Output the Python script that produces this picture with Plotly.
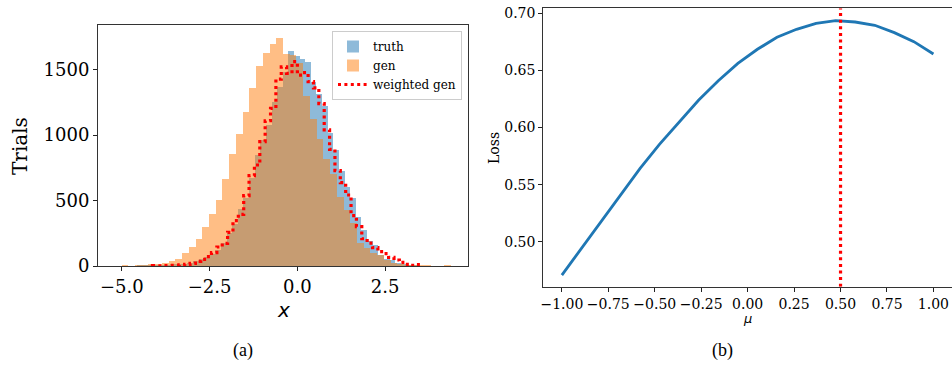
import numpy as np
import plotly.graph_objects as go

# ---------------- data: panel (a) histograms ----------------
truth_lo, truth_hi = -4.576, 3.424
truth_counts = [1, 1, 1, 2, 3, 5, 8, 10, 18, 25, 38, 53, 71, 95, 125, 173, 249, 318, 433, 517,
                669, 847, 962, 1076, 1249, 1369, 1478, 1641, 1600, 1580, 1555, 1407, 1310, 1225, 1013,
                885, 725, 606, 516, 377, 275, 193, 160, 84, 51, 46, 20, 8, 5, 2]

gen_lo, gen_hi = -5.2, 4.38
gen_counts = [0, 1, 0, 1, 3, 10, 15, 25, 41, 51, 97, 142, 209, 300, 397, 504, 664, 855, 1008, 1173,
              1361, 1527, 1626, 1695, 1743, 1616, 1610, 1547, 1300, 1120, 967, 817, 702, 530, 430,
              330, 175, 135, 97, 84, 46, 25, 15, 5, 3, 2, 1, 0, 0, 1]

wgen_lo, wgen_hi = -4.129, 3.516
wgen_counts = [3, 2, 4, 5, 6, 8, 13, 20, 36, 51, 71, 102, 145, 173, 257, 346, 394, 537, 690, 771,
               949, 1109, 1204, 1427, 1520, 1470, 1560, 1458, 1476, 1407, 1360, 1240, 1040, 890, 728,
               636, 542, 385, 300, 208, 175, 140, 110, 95, 66, 46, 28, 13, 5, 10]

# ---------------- data: panel (b) loss curve ----------------
mu_lo, mu_hi, mu_n = -1.0, 1.0, 20
loss = [0.4708, 0.4942, 0.5175, 0.5409, 0.5642, 0.5855, 0.6051, 0.6241, 0.6410, 0.6562,
        0.6685, 0.6790, 0.6860, 0.6912, 0.6936, 0.6924, 0.6895, 0.6831, 0.6752, 0.6644]
mu_best = 0.5

# ---------------- figure ----------------
W, H = 952, 365
SERIF = "DejaVu Serif"
BLUE = "#1f77b4"
ORANGE = "#ff7f0e"


def px_x(p):
    return p / W


def px_y(p):
    return 1 - p / H


def edges(lo, hi, n):
    return np.linspace(lo, hi, n + 1)


fig = go.Figure()

for lo, hi, counts, color, name in [
    (truth_lo, truth_hi, truth_counts, BLUE, "truth"),
    (gen_lo, gen_hi, gen_counts, ORANGE, "gen"),
]:
    e = edges(lo, hi, len(counts))
    fig.add_trace(go.Bar(
        x=(e[:-1] + e[1:]) / 2, y=counts, width=(hi - lo) / len(counts),
        marker=dict(color=color, line=dict(width=0)), opacity=0.5,
        name=name, xaxis="x", yaxis="y", hoverinfo="skip",
    ))

e = edges(wgen_lo, wgen_hi, len(wgen_counts))
step_x = [e[0]] + list(e[:-1]) + [e[-1], e[-1]]
step_y = [0] + list(wgen_counts) + [wgen_counts[-1], 0]
fig.add_trace(go.Scatter(
    x=step_x, y=step_y, mode="lines", line=dict(color="red", width=3.2, dash="3px,3.4px", shape="hv"),
    name="weighted gen", xaxis="x", yaxis="y",
))

mu = np.linspace(mu_lo, mu_hi, mu_n)
fig.add_trace(go.Scatter(
    x=mu, y=loss, mode="lines", line=dict(color=BLUE, width=2.8),
    showlegend=False, xaxis="x2", yaxis="y2",
))
fig.add_trace(go.Scatter(
    x=[mu_best, mu_best], y=[0.4606, 0.7044], mode="lines",
    line=dict(color="red", width=3.2, dash="3px,3.6px"),
    showlegend=False, xaxis="x2", yaxis="y2",
))

axis_common = dict(showgrid=False, zeroline=False, showline=True, linecolor="#333333", linewidth=1.1,
                   ticks="outside", ticklen=4, tickwidth=1, tickcolor="#222", automargin=False)

fig.update_layout(
    width=W, height=H, margin=dict(l=0, r=0, t=0, b=0, autoexpand=False),
    paper_bgcolor="white", plot_bgcolor="white",
    barmode="overlay", bargap=0,
    xaxis=dict(domain=[px_x(98), px_x(468)], range=[-5.68, 4.86], anchor="y",
               tickvals=[-5.0, -2.5, 0.0, 2.5], ticktext=["\u22125.0", "\u22122.5", "0.0", "2.5"],
               tickfont=dict(family=SERIF, size=18, color="black"), mirror=True, **axis_common),
    yaxis=dict(domain=[px_y(266), px_y(25)], range=[0, 1840], anchor="x",
               tickvals=[0, 500, 1000, 1500],
               tickfont=dict(family=SERIF, size=18, color="black"), mirror=True, **axis_common),
    xaxis2=dict(domain=[px_x(543.3), 1.0], range=[-1.1, 1.1], anchor="y2",
                tickvals=[-1.0, -0.75, -0.5, -0.25, 0.0, 0.25, 0.5, 0.75, 1.0],
                ticktext=["\u22121.00", "\u22120.75", "\u22120.50", "\u22120.25", "0.00", "0.25", "0.50", "0.75", "1.00"],
                tickfont=dict(family=SERIF, size=14, color="black"), mirror=True, **axis_common),
    yaxis2=dict(domain=[px_y(286.7), px_y(8.3)], range=[0.4606, 0.7044], anchor="x2",
                tickvals=[0.50, 0.55, 0.60, 0.65, 0.70], ticktext=["0.50", "0.55", "0.60", "0.65", "0.70"],
                tickfont=dict(family=SERIF, size=14, color="black"), mirror=False, **axis_common),
    legend=dict(x=px_x(462), y=px_y(31), xanchor="right", yanchor="top",
                bgcolor="rgba(255,255,255,0.85)", bordercolor="#cccccc", borderwidth=1,
                font=dict(family=SERIF, size=12, color="black"), itemwidth=30,
                tracegroupgap=0),
    showlegend=True,
)

annotations = [
    dict(text="Trials", x=px_x(20), y=px_y(146), textangle=-90,
         font=dict(family=SERIF, size=20, color="black")),
    dict(text="x", x=px_x(283.5), y=px_y(310),
         font=dict(family="DejaVu Sans", size=20, color="black", style="italic")),
    dict(text="(a)", x=px_x(243), y=px_y(350),
         font=dict(family="Liberation Serif", size=18, color="black")),
    dict(text="Loss", x=px_x(494), y=px_y(148), textangle=-90,
         font=dict(family=SERIF, size=14, color="black")),
    dict(text="\u03bc", x=px_x(747), y=px_y(318),
         font=dict(family="DejaVu Sans", size=13, color="black", style="italic")),
    dict(text="(b)", x=px_x(722), y=px_y(350),
         font=dict(family="Liberation Serif", size=18, color="black")),
]
for a in annotations:
    a.update(xref="paper", yref="paper", showarrow=False, xanchor="center", yanchor="middle")
fig.update_layout(annotations=annotations)

fig.write_html(
    "out.html",
    config={"displayModeBar": False},
    post_script="document.body.style.margin='0';document.body.style.overflow='hidden';",
)
